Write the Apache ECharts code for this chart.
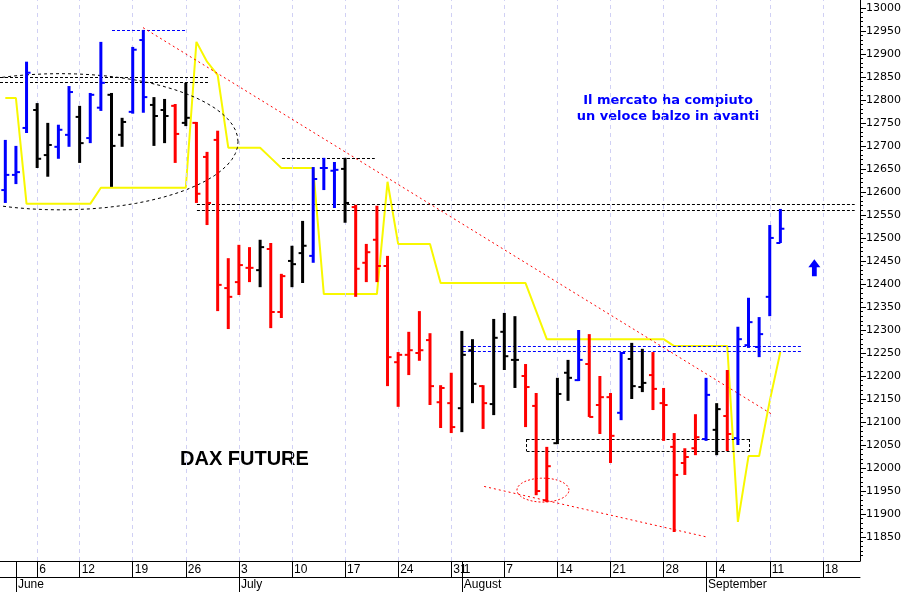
<!DOCTYPE html>
<html><head><meta charset="utf-8">
<script src="https://cdn.jsdelivr.net/npm/echarts@6/dist/echarts.min.js"></script>
<style>html,body{margin:0;padding:0;background:#fff}#c{width:911px;height:592px}</style>
</head><body><div id="c"></div>
<script>
// trading days May 31 .. Sep 21, 2017 (index 0..80)
const dayTickIdx = [1,3,7,12,17,22,27,32,37,42,43,47,52,57,62,66,67,72,77];
const dayTickLabels = ['','6','12','19','26','3','10','17','24','31','1','7','14','21','28','','4','11','18'];
const gridIdx = [3,7,12,17,22,27,32,37,42,47,52,57,62,67,72,77];
const monthIdx = [1,22,43,66];
const monthLabels = ['June','July','August','September'];
const yTicks = [11850,11900,11950,12000,12050,12100,12150,12200,12250,12300,12350,12400,12450,12500,12550,12600,12650,12700,12750,12800,12850,12900,12950,13000];

const openP  = [12604,12637,12739,12778,12680,12698,12724,12763,12717,12783,12811,12724,12774,12930,12789,12778,12787,12750,12750,12676,12713,12391,12404,12435,12430,12476,12339,12450,12467,12461,12652,12646,12650,12567,12446,12496,12439,12230,12246,12250,12278,12143,12141,12130,12256,12178,12139,12296,12235,12200,12135,11930,12054,12207,12191,12226,12137,12154,12120,12237,12176,12202,12141,12046,12011,12043,12063,12083,12113,12065,12267,12263,12372,12489];
const highP  = [12713,12700,12883,12793,12750,12746,12830,12787,12815,12926,12815,12761,12915,12952,12806,12802,12791,12837,12752,12687,12733,12456,12485,12480,12496,12489,12422,12483,12537,12654,12674,12665,12674,12572,12487,12570,12461,12252,12296,12341,12293,12180,12207,12298,12280,12180,12324,12337,12330,12226,12163,12046,12196,12235,12300,12291,12200,12163,12252,12272,12259,12252,12174,12076,12043,12117,12196,12141,12213,12307,12370,12328,12528,12563];
const lowP   = [12576,12617,12728,12652,12633,12672,12698,12663,12706,12776,12611,12698,12770,12772,12700,12706,12663,12743,12576,12528,12341,12302,12376,12404,12393,12304,12326,12393,12402,12446,12604,12565,12533,12372,12404,12404,12178,12133,12202,12233,12137,12087,12076,12078,12141,12085,12115,12213,12174,12089,11941,11926,12052,12146,12189,12111,12074,12011,12104,12150,12165,12126,12059,11861,11985,12028,12059,12028,12037,12050,12261,12241,12330,12489];
const closeP = [12637,12643,12859,12672,12702,12735,12817,12706,12811,12837,12700,12752,12909,12806,12765,12765,12726,12761,12596,12576,12398,12372,12441,12435,12480,12339,12417,12443,12483,12628,12652,12648,12576,12433,12469,12439,12241,12246,12256,12256,12178,12174,12089,12246,12183,12141,12283,12243,12235,12176,11950,12004,12161,12196,12235,12111,12154,12070,12250,12178,12185,12172,12137,11985,12024,12067,12159,12128,12074,12280,12317,12291,12500,12520];
const barColor = 'bbbkkbbkbbkkbbkkrkrrrrrrkrrkkbbbkrrrrrrrrrrkkrkkkrrrkkbrrrbkkrrrrrbkrbbbbb';
const yellow = [12804,12804,12574,12574,12574,12574,12574,12574,12574,12609,12609,12609,12609,12609,12609,12609,12609,12609,12926,12883,12854,12696,12696,12696,12696,12674,12652,12652,12652,12652,12378,12378,12378,12378,12378,12378,12622,12487,12487,12487,12487,12402,12402,12402,12402,12402,12402,12402,12402,12402,12341,12280,12280,12280,12280,12280,12280,12280,12280,12280,12280,12280,12280,12265,12265,12265,12265,12265,12265,11883,12026,12026,12146,12252];

// annotations in data units: [x1, x2, price, color]
const hLines = [[-0.5,19.1,12850,'#000'],[-0.5,19.1,12839,'#000'],[10.05,17.0,12952,'#0000ff'],
  [18.05,80,12574,'#000'],[18.05,80,12561,'#000'],[26.06,34.8,12674,'#000'],
  [43.1,75,12265,'#0000ff'],[43.1,75,12254,'#0000ff'],[49.1,70.1,12063,'#000'],[49.1,70.1,12037,'#000']];
const vLines = [[49.1,12063,12037],[70.1,12063,12037]];
const trendLines = [[12.97,12957,72.2,12117],[45.1,11960,66.1,11850]];
// ellipses: [centerIdx, centerPrice, radiusIdx, radiusPrice, color]
const ellipses = [[5.15,12709,16.77,148,'#000'],[50.64,11952,2.45,26,'#ff0000']];
const arrowAt = [76.2,12435];

const colMap = {b:'#0000ff',k:'#000000',r:'#ff0000'};
const ohlc = openP.map((o,i)=>[i,o,highP[i],lowP[i],closeP[i]]);

const chart = echarts.init(document.getElementById('c'));
const baseX = {type:'value',min:-0.5,max:80.5,splitLine:{show:false},axisLine:{onZero:false,lineStyle:{color:'#000'}}};
chart.setOption({
  animation:false,
  grid:{left:0,right:51,top:0,bottom:31},
  xAxis:[
    Object.assign({},baseX,{position:'bottom',
      axisTick:{customValues:dayTickIdx,length:16,lineStyle:{color:'#000'}},
      axisLabel:{customValues:dayTickIdx,formatter:v=>dayTickLabels[dayTickIdx.indexOf(v)]||'',
        align:'left',margin:3,padding:[0,0,0,2],verticalAlign:'top',color:'#000',fontFamily:'Liberation Sans',fontSize:12}}),
    Object.assign({},baseX,{position:'bottom',offset:16,
      axisTick:{customValues:monthIdx,length:16,lineStyle:{color:'#000'}},
      axisLabel:{customValues:monthIdx,formatter:v=>monthLabels[monthIdx.indexOf(v)]||'',
        align:'left',margin:2,padding:[0,0,0,2],verticalAlign:'top',color:'#000',fontFamily:'Liberation Sans',fontSize:12}})
  ],
  yAxis:[
    {type:'value',position:'right',min:11798,max:13017,splitLine:{show:false},
     axisLine:{show:true,onZero:false,lineStyle:{color:'#000'}},
     axisTick:{customValues:yTicks,length:6,lineStyle:{color:'#000'}},
     axisLabel:{customValues:yTicks,formatter:v=>String(v),margin:6,color:'#000',fontFamily:'DejaVu Sans',fontSize:11}},
    {type:'value',position:'right',min:11798,max:13017,splitLine:{show:false},
     axisLine:{show:false,onZero:false},
     axisTick:{show:true,customValues:yTicks.slice(0,-1).flatMap(t=>[t+10,t+20,t+30,t+40]).concat([11810,11820,11830,11840]),length:3,lineStyle:{color:'#000'}},
     axisLabel:{show:false}}
  ],
  series:[
    {type:'line',data:yellow.map((v,i)=>[i,v]),symbol:'none',lineStyle:{color:'#f8f800',width:2},z:2,
     markLine:{silent:true,symbol:'none',label:{show:false},
       data:gridIdx.map(g=>({xAxis:g,lineStyle:{color:'#d0d0f4',type:[4,4],width:1}}))
        .concat(hLines.map(h=>[{coord:[h[0],h[2]],lineStyle:{color:h[3],type:[3,2],width:1}},{coord:[h[1],h[2]]}]))
        .concat(vLines.map(v=>[{coord:[v[0],v[1]],lineStyle:{color:'#000',type:[3,2],width:1}},{coord:[v[0],v[2]]}]))
        .concat(trendLines.map(t=>[{coord:[t[0],t[1]],lineStyle:{color:'#ff0000',type:[2,3],width:1}},{coord:[t[2],t[3]]}]))},
     markPoint:{silent:true,data:[{coord:arrowAt,symbol:'path://M5,0 L10,6 L7,6 L7,13 L3,13 L3,6 L0,6 Z',symbolSize:[12,17],itemStyle:{color:'#0000ff'},label:{show:false}}]}},
    {type:'custom',z:5,data:ohlc,encode:{x:0,y:[1,2,3,4]},
     renderItem:(params,api)=>{
       const i=api.value(0);
       const pH=api.coord([i,api.value(2)]),pL=api.coord([i,api.value(3)]);
       const pO=api.coord([i,api.value(1)]),pC=api.coord([i,api.value(4)]);
       const c=colMap[barColor[i]];
       const x=pH[0];
       return {type:'group',children:[
         {type:'line',shape:{x1:x,y1:pH[1],x2:x,y2:pL[1]},style:{stroke:c,lineWidth:3}},
         {type:'line',shape:{x1:x-4,y1:pO[1],x2:x,y2:pO[1]},style:{stroke:c,lineWidth:2}},
         {type:'line',shape:{x1:x,y1:pC[1],x2:x+4,y2:pC[1]},style:{stroke:c,lineWidth:2}}]};
     }},
    {type:'custom',z:4,data:ellipses.map((e,k)=>[e[0],e[1],e[2],e[3],k]),encode:{x:0,y:1},
     renderItem:(params,api)=>{
       const e=ellipses[params.dataIndex];
       const pts=[];
       for(let a=0;a<=72;a++){const t=a/72*2*Math.PI;pts.push(api.coord([e[0]+e[2]*Math.cos(t),e[1]+e[3]*Math.sin(t)]));}
       return {type:'polyline',shape:{points:pts},style:{stroke:e[4],fill:null,lineWidth:1,lineDash:params.dataIndex?[2,2]:[3,3]}};
     }}
  ],
  graphic:[
    {type:'text',x:180,y:449,style:{text:'DAX FUTURE',font:'bold 20px "Liberation Sans", Arial',fill:'#000'}},
    {type:'text',x:668,y:93,style:{text:'Il mercato ha compiuto\nun veloce balzo in avanti',font:'bold 13px "DejaVu Sans"',fill:'#0000ff',align:'center',lineHeight:16}}
  ]
});
</script></body></html>
